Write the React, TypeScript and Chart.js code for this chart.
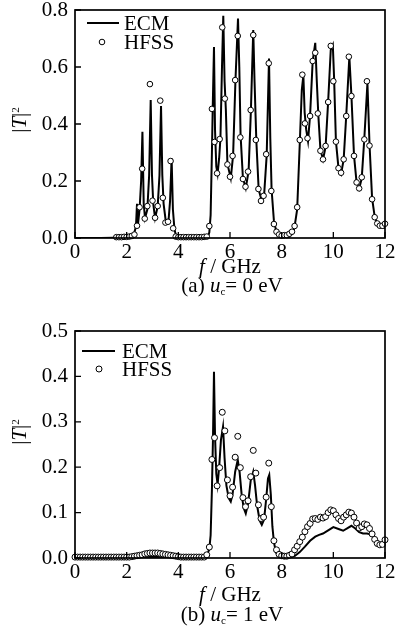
import React, { useEffect, useRef } from "react";
import { Chart, registerables } from "chart.js";

Chart.register(...registerables);

const FONT = "'Liberation Serif', 'Times New Roman', serif";
const FS = 21;

// ---------- Panel (a): u_c = 0 eV ----------
const ecmAFreq = [
  0, 1.0, 1.5, 2.0, 2.2, 2.3, 2.36, 2.4, 2.44, 2.5, 2.56, 2.61, 2.66, 2.71, 2.8, 2.87, 2.93, 2.98, 3.03, 3.1,
  3.2, 3.27, 3.33, 3.38, 3.43, 3.52, 3.62, 3.68, 3.74, 3.79, 3.85, 3.92, 4.0, 5.0, 5.15, 5.2, 5.25, 5.3, 5.33,
  5.38, 5.42, 5.47, 5.52, 5.58, 5.63, 5.69, 5.74, 5.79, 5.84, 5.9, 6.03, 6.12, 6.21, 6.31, 6.36, 6.41, 6.5,
  6.61, 6.72, 6.81, 6.9, 6.95, 7.02, 7.11, 7.23, 7.32, 7.42, 7.51, 7.56, 7.61, 7.7, 7.8, 7.9, 8.0, 8.3, 8.45,
  8.5, 8.6, 8.7, 8.78, 8.84, 8.89, 8.95, 9.02, 9.1, 9.2, 9.3, 9.36, 9.42, 9.5, 9.6, 9.7, 9.8, 9.9, 9.98, 10.03,
  10.1, 10.2, 10.3, 10.4, 10.5, 10.62, 10.7, 10.8, 10.9, 11.0, 11.1, 11.2, 11.32, 11.4, 11.5, 11.6, 11.7, 11.8,
  11.9, 12.0,
];
const ecmAT = [
  0, 0, 0.001, 0.002, 0.005, 0.02, 0.04, 0.12, 0.05, 0.1, 0.2, 0.373, 0.12, 0.07, 0.1, 0.22, 0.484, 0.22, 0.12,
  0.07, 0.11, 0.22, 0.463, 0.22, 0.12, 0.055, 0.06, 0.13, 0.28, 0.1, 0.03, 0.005, 0.001, 0.001, 0.005, 0.02,
  0.08, 0.3, 0.45, 0.67, 0.38, 0.25, 0.225, 0.28, 0.35, 0.6, 0.78, 0.55, 0.45, 0.26, 0.21, 0.29, 0.55, 0.77,
  0.6, 0.36, 0.21, 0.175, 0.235, 0.45, 0.73, 0.55, 0.34, 0.17, 0.13, 0.15, 0.29, 0.63, 0.35, 0.17, 0.06, 0.02,
  0.007, 0.003, 0.004, 0.02, 0.04, 0.1, 0.33, 0.52, 0.57, 0.44, 0.38, 0.34, 0.43, 0.62, 0.685, 0.55, 0.43, 0.31,
  0.275, 0.32, 0.48, 0.66, 0.677, 0.56, 0.34, 0.245, 0.225, 0.275, 0.43, 0.636, 0.5, 0.29, 0.195, 0.172, 0.21,
  0.35, 0.543, 0.33, 0.14, 0.075, 0.05, 0.04, 0.035, 0.035,
];
const hfssAFreq = [
  1.6, 1.7, 1.8, 1.9, 2.0, 2.1, 2.2, 2.3, 2.4, 2.5, 2.6, 2.7, 2.8, 2.9, 3.0, 3.1, 3.2, 3.3, 3.4, 3.5, 3.6, 3.7,
  3.8, 3.9, 4.0, 4.1, 4.2, 4.3, 4.4, 4.5, 4.6, 4.7, 4.8, 4.9, 5.0, 5.1, 5.2, 5.3, 5.4, 5.5, 5.6, 5.7, 5.8, 5.9,
  6.0, 6.1, 6.2, 6.3, 6.4, 6.5, 6.6, 6.7, 6.8, 6.9, 7.0, 7.1, 7.2, 7.3, 7.4, 7.5, 7.6, 7.7, 7.8, 7.9, 8.0, 8.1,
  8.2, 8.3, 8.4, 8.5, 8.6, 8.7, 8.8, 8.9, 9.0, 9.1, 9.2, 9.3, 9.4, 9.5, 9.6, 9.7, 9.8, 9.9, 10.0, 10.1, 10.2,
  10.3, 10.4, 10.5, 10.6, 10.7, 10.8, 10.9, 11.0, 11.1, 11.2, 11.3, 11.4, 11.5, 11.6, 11.7, 11.8, 11.9, 12.0,
];
const hfssAT = [
  0.003, 0.003, 0.003, 0.004, 0.004, 0.005, 0.007, 0.012, 0.043, 0.108, 0.243, 0.068, 0.112, 0.54, 0.131, 0.071,
  0.112, 0.482, 0.141, 0.054, 0.057, 0.27, 0.034, 0.005, 0.003, 0.003, 0.003, 0.003, 0.003, 0.003, 0.003, 0.003,
  0.003, 0.003, 0.004, 0.005, 0.042, 0.453, 0.337, 0.227, 0.347, 0.739, 0.489, 0.258, 0.215, 0.288, 0.554,
  0.709, 0.353, 0.207, 0.18, 0.233, 0.449, 0.712, 0.344, 0.172, 0.13, 0.148, 0.294, 0.613, 0.165, 0.049, 0.022,
  0.012, 0.008, 0.01, 0.01, 0.015, 0.022, 0.042, 0.108, 0.344, 0.573, 0.402, 0.35, 0.428, 0.621, 0.65, 0.437,
  0.306, 0.276, 0.323, 0.477, 0.674, 0.55, 0.338, 0.245, 0.229, 0.276, 0.428, 0.636, 0.498, 0.288, 0.195, 0.174,
  0.213, 0.346, 0.55, 0.324, 0.136, 0.073, 0.051, 0.043, 0.043, 0.05,
];

// ---------- Panel (b): u_c = 1 eV ----------
const ecmBFreq = [
  0, 5.0, 5.1, 5.2, 5.25, 5.3, 5.34, 5.38, 5.42, 5.47, 5.52, 5.58, 5.65, 5.73, 5.79, 5.86, 5.95, 6.03, 6.1, 6.2,
  6.3, 6.37, 6.45, 6.53, 6.61, 6.7, 6.8, 6.9, 6.97, 7.05, 7.15, 7.23, 7.32, 7.4, 7.47, 7.52, 7.58, 7.64, 7.7,
  7.78, 7.88, 8.0, 8.3, 8.5, 8.7, 8.9, 9.1, 9.3, 9.45, 9.6, 9.8, 10.0, 10.2, 10.38, 10.55, 10.7, 10.85, 11.0,
  11.15, 11.3, 11.45, 11.6, 11.75, 11.9, 12.0,
];
const ecmBT = [
  0.002, 0.002, 0.005, 0.02, 0.05, 0.15, 0.26, 0.41, 0.27, 0.185, 0.162, 0.2, 0.26, 0.289, 0.22, 0.16, 0.132,
  0.124, 0.14, 0.19, 0.216, 0.19, 0.14, 0.11, 0.098, 0.12, 0.17, 0.19, 0.16, 0.115, 0.082, 0.073, 0.085, 0.13,
  0.175, 0.183, 0.14, 0.07, 0.035, 0.012, 0.004, 0.002, 0.001, 0.004, 0.013, 0.025, 0.038, 0.047, 0.051, 0.054,
  0.061, 0.068, 0.064, 0.06, 0.066, 0.071, 0.065, 0.057, 0.054, 0.054, 0.052, 0.044, 0.036, 0.031, 0.029,
];
const hfssBFreq = [
  0.0, 0.1, 0.2, 0.3, 0.4, 0.5, 0.6, 0.7, 0.8, 0.9, 1.0, 1.1, 1.2, 1.3, 1.4, 1.5, 1.6, 1.7, 1.8, 1.9, 2.0, 2.1,
  2.2, 2.3, 2.4, 2.5, 2.6, 2.7, 2.8, 2.9, 3.0, 3.1, 3.2, 3.3, 3.4, 3.5, 3.6, 3.7, 3.8, 3.9, 4.0, 4.1, 4.2, 4.3,
  4.4, 4.5, 4.6, 4.7, 4.8, 4.9, 5.0, 5.1, 5.2, 5.3, 5.4, 5.5, 5.6, 5.7, 5.8, 5.9, 6.0, 6.1, 6.2, 6.3, 6.4, 6.5,
  6.6, 6.7, 6.8, 6.9, 7.0, 7.1, 7.2, 7.3, 7.4, 7.5, 7.6, 7.7, 7.8, 7.9, 8.0, 8.1, 8.2, 8.3, 8.4, 8.5, 8.6, 8.7,
  8.8, 8.9, 9.0, 9.1, 9.2, 9.3, 9.4, 9.5, 9.6, 9.7, 9.8, 9.9, 10.0, 10.1, 10.2, 10.3, 10.4, 10.5, 10.6, 10.7,
  10.8, 10.9, 11.0, 11.1, 11.2, 11.3, 11.4, 11.5, 11.6, 11.7, 11.8, 11.9, 12.0,
];
const hfssBT = [
  0.002, 0.002, 0.002, 0.002, 0.002, 0.002, 0.002, 0.002, 0.002, 0.002, 0.002, 0.002, 0.002, 0.002, 0.002,
  0.002, 0.002, 0.002, 0.002, 0.002, 0.002, 0.002, 0.003, 0.004, 0.005, 0.006, 0.007, 0.009, 0.01, 0.011,
  0.011, 0.011, 0.011, 0.01, 0.009, 0.008, 0.007, 0.006, 0.005, 0.004, 0.003, 0.002, 0.002, 0.002, 0.002,
  0.002, 0.002, 0.002, 0.002, 0.002, 0.002, 0.007, 0.024, 0.217, 0.265, 0.159, 0.199, 0.321, 0.28, 0.172,
  0.137, 0.156, 0.222, 0.268, 0.199, 0.133, 0.113, 0.126, 0.179, 0.237, 0.187, 0.117, 0.087, 0.09, 0.134,
  0.209, 0.113, 0.038, 0.018, 0.008, 0.005, 0.004, 0.004, 0.006, 0.009, 0.018, 0.026, 0.036, 0.046, 0.058,
  0.069, 0.076, 0.086, 0.087, 0.085, 0.09, 0.088, 0.091, 0.1, 0.106, 0.104, 0.095, 0.087, 0.082, 0.09, 0.095,
  0.101, 0.099, 0.09, 0.077, 0.066, 0.069, 0.075, 0.073, 0.065, 0.053, 0.041, 0.032, 0.029, 0.03, 0.04,
];

const xTickStep = 2;
const seriesLabels = ["ECM", "HFSS"];

type LegendPos = { lineX0: number; lineX1: number; lineY: number; circX: number; circY: number; textX: number };

type PanelProps = {
  top: number;
  ecmF: number[];
  ecmT: number[];
  hfssF: number[];
  hfssT: number[];
  yMax: number;
  yStep: number;
  legend: LegendPos;
  xAxisH: number;
  pointR: number;
};

function Panel(p: PanelProps) {
  const ref = useRef<HTMLCanvasElement | null>(null);
  useEffect(() => {
    if (!ref.current) return;
    const ecm = p.ecmF.map((f, i) => ({ x: f, y: p.ecmT[i] }));
    const hfss = p.hfssF.map((f, i) => ({ x: f, y: p.hfssT[i] }));
    const frame = {
      id: "frame",
      afterDatasetsDraw(chart: any) {
        const { ctx, chartArea } = chart;
        const { left, right, top, bottom } = chartArea;
        const xs = chart.scales.x;
        const ys = chart.scales.y;
        ctx.save();
        ctx.strokeStyle = "#000";
        ctx.lineWidth = 1.3;
        ctx.beginPath();
        xs.ticks.forEach((t: any) => {
          const px = xs.getPixelForValue(t.value);
          ctx.moveTo(px, bottom);
          ctx.lineTo(px, bottom - 6);
        });
        ys.ticks.forEach((t: any) => {
          const py = ys.getPixelForValue(t.value);
          ctx.moveTo(left, py);
          ctx.lineTo(left + 6, py);
        });
        ctx.stroke();
        ctx.lineWidth = 1.7;
        ctx.strokeRect(left, top, right - left, bottom - top);
        // legend
        const L = p.legend;
        ctx.lineWidth = 2;
        ctx.beginPath();
        ctx.moveTo(L.lineX0, L.lineY);
        ctx.lineTo(L.lineX1, L.lineY);
        ctx.stroke();
        ctx.lineWidth = 1;
        ctx.fillStyle = "#fff";
        ctx.beginPath();
        ctx.arc(L.circX, L.circY, p.pointR, 0, Math.PI * 2);
        ctx.fill();
        ctx.stroke();
        ctx.fillStyle = "#000";
        ctx.font = `${FS}px ${FONT}`;
        ctx.textBaseline = "middle";
        ctx.textAlign = "left";
        ctx.fillText(seriesLabels[0], L.textX, L.lineY + 1);
        ctx.fillText(seriesLabels[1], L.textX, L.circY + 1);
        ctx.restore();
      },
    };
    const chart = new Chart(ref.current, {
      type: "scatter",
      data: {
        datasets: [
          {
            label: seriesLabels[1],
            data: hfss,
            showLine: false,
            pointRadius: p.pointR,
            pointBorderWidth: 1,
            pointBackgroundColor: "#fff",
            pointBorderColor: "#000",
            clip: false,
          } as any,
          {
            label: seriesLabels[0],
            data: ecm,
            showLine: true,
            borderColor: "#000",
            borderWidth: 2,
            pointRadius: 0,
            tension: 0,
          } as any,
        ],
      },
      options: {
        animation: false,
        responsive: false,
        devicePixelRatio: 1,
        events: [],
        layout: { padding: { top: 10, right: 10, left: 0, bottom: 0 } },
        plugins: { legend: { display: false }, tooltip: { enabled: false } },
        scales: {
          x: {
            type: "linear",
            min: 0,
            max: 12,
            ticks: {
              stepSize: xTickStep,
              padding: 2,
              color: "#000",
              autoSkip: false,
              maxRotation: 0,
              font: { family: FONT, size: FS },
            },
            grid: { display: false, drawTicks: false },
            border: { display: false },
            afterFit: (s: any) => {
              s.height = p.xAxisH;
              s.paddingLeft = 0;
              s.paddingRight = 0;
            },
          },
          y: {
            type: "linear",
            min: 0,
            max: p.yMax,
            ticks: {
              stepSize: p.yStep,
              padding: 7,
              color: "#000",
              font: { family: FONT, size: FS },
              callback: (v: any) => Number(v).toFixed(1),
            },
            grid: { display: false, drawTicks: false },
            border: { display: false },
            afterFit: (s: any) => {
              s.width = 75;
              s.paddingTop = 0;
              s.paddingBottom = 0;
            },
          },
        },
      },
      plugins: [frame],
    });
    return () => chart.destroy();
  }, []);
  return (
    <canvas
      ref={ref}
      width={395}
      height={262}
      style={{ position: "absolute", left: 0, top: p.top, width: 395, height: 262 }}
    />
  );
}

const txt: React.CSSProperties = {
  position: "absolute",
  fontFamily: FONT,
  fontSize: FS,
  color: "#000",
  whiteSpace: "nowrap",
  lineHeight: 1,
};

function YTitle({ x, y }: { x: number; y: number }) {
  return (
    <div style={{ ...txt, left: x, top: y, transform: "translate(-50%, -50%) rotate(-90deg)" }}>
      |<i>T</i>|<sup style={{ fontSize: 11, verticalAlign: "7px" }}>2</sup>
    </div>
  );
}

function XTitle({ x, y }: { x: number; y: number }) {
  return (
    <div style={{ ...txt, left: x, top: y, transform: "translate(-50%, -50%)" }}>
      <i>f</i> / GHz
    </div>
  );
}

function Caption({ x, y, tag, val }: { x: number; y: number; tag: string; val: string }) {
  return (
    <div style={{ ...txt, left: x, top: y, transform: "translate(-50%, -50%)" }}>
      ({tag}) <i>u</i>
      <sub style={{ fontSize: 11, verticalAlign: "-3px" }}>c</sub>= {val} eV
    </div>
  );
}

export default function App() {
  return (
    <div style={{ position: "fixed", left: 0, top: 0, width: 395, height: 640, background: "#fff" }}>
      <Panel
        top={0}
        ecmF={ecmAFreq}
        ecmT={ecmAT}
        hfssF={hfssAFreq}
        hfssT={hfssAT}
        yMax={0.8}
        yStep={0.2}
        xAxisH={24}
        pointR={2.8}
        legend={{ lineX0: 87, lineX1: 119, lineY: 23, circX: 102, circY: 42, textX: 124 }}
      />
      <Panel
        top={321}
        ecmF={ecmBFreq}
        ecmT={ecmBT}
        hfssF={hfssBFreq}
        hfssT={hfssBT}
        yMax={0.5}
        yStep={0.1}
        xAxisH={25}
        pointR={3}
        legend={{ lineX0: 82, lineX1: 115, lineY: 30, circX: 99, circY: 48, textX: 122 }}
      />
      <YTitle x={19} y={120} />
      <YTitle x={19} y={432} />
      <XTitle x={230} y={266} />
      <Caption x={232} y={286} tag="a" val="0" />
      <XTitle x={230} y={594} />
      <Caption x={232} y={615} tag="b" val="1" />
    </div>
  );
}
